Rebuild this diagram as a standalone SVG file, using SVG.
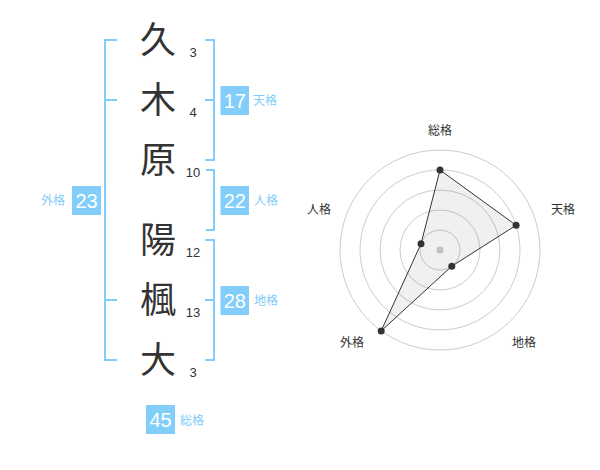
<svg xmlns="http://www.w3.org/2000/svg" width="600" height="470" viewBox="0 0 600 470">
<style>
.kanji{font-family:"Noto Sans CJK JP","Noto Sans CJK SC",sans-serif;font-size:36px;fill:#333;text-anchor:middle}
.num{font-family:"Liberation Sans",Arial,sans-serif;font-size:13px;fill:#333;text-anchor:middle}
.br{fill:none;stroke:#82cdf9;stroke-width:2}
.box{fill:#82cdf9}
.bnum{font-family:"Liberation Sans",Arial,sans-serif;font-size:20px;fill:#fff;text-anchor:middle}
.lab{font-family:"Noto Sans CJK JP","Noto Sans CJK SC",sans-serif;font-size:12px;fill:#82cdf9}
.rlab{font-family:"Noto Sans CJK JP","Noto Sans CJK SC",sans-serif;font-size:12px;fill:#333;text-anchor:middle}
.ring{fill:none;stroke:#cccccc;stroke-width:1}
.dot{fill:#333}
</style>
<rect width="600" height="470" fill="#fff"/>
<g id="name">
<g id="c1"><text class="kanji" x="158" y="53">久</text><text class="num" x="193" y="57">3</text></g>
<g id="c2"><text class="kanji" x="158" y="113">木</text><text class="num" x="193" y="117">4</text></g>
<g id="c3"><text class="kanji" x="158" y="173">原</text><text class="num" x="193" y="177">10</text></g>
<g id="c4"><text class="kanji" x="158" y="253">陽</text><text class="num" x="193" y="257">12</text></g>
<g id="c5"><text class="kanji" x="158" y="313">楓</text><text class="num" x="193" y="317">13</text></g>
<g id="c6"><text class="kanji" x="158" y="373">大</text><text class="num" x="193" y="377">3</text></g>
</g>
<g id="connectors">
<path class="br" d="M117,40 H105 V360 H117 M105,100 H117 M105,300 H117"/>
<path class="br" d="M205,40 H214 V160 H205 M205,100 H214"/>
<path class="br" d="M206,170 H214 V230 H206"/>
<path class="br" d="M205,240 H214 V360 H205 M205,300 H214"/>
</g>
<g id="tenkaku"><rect class="box" x="220.5" y="86" width="28.5" height="29"/><text class="bnum" x="234.75" y="107.5">17</text><text class="lab" x="253" y="105">天格</text></g>
<g id="jinkaku"><rect class="box" x="220.5" y="186" width="28.5" height="29"/><text class="bnum" x="234.75" y="207.5">22</text><text class="lab" x="254" y="205">人格</text></g>
<g id="chikaku"><rect class="box" x="220.5" y="286" width="28.5" height="29"/><text class="bnum" x="234.75" y="307.5">28</text><text class="lab" x="254" y="305">地格</text></g>
<g id="gaikaku"><rect class="box" x="72" y="186" width="29" height="29"/><text class="bnum" x="86.5" y="207.5">23</text><text class="lab" x="41" y="205">外格</text></g>
<g id="soukaku"><rect class="box" x="146" y="405" width="29" height="29"/><text class="bnum" x="160.5" y="426.5">45</text><text class="lab" x="180" y="425">総格</text></g>
<g id="radar">
<circle class="ring" cx="440" cy="250" r="20"/>
<circle class="ring" cx="440" cy="250" r="40"/>
<circle class="ring" cx="440" cy="250" r="60"/>
<circle class="ring" cx="440" cy="250" r="80"/>
<circle class="ring" cx="440" cy="250" r="100"/>
<circle cx="440" cy="250" r="3.5" fill="#cccccc"/>
<polygon points="440,170 516.1,225.3 451.8,266.2 381.2,330.9 421,243.8" fill="#000" fill-opacity="0.06" stroke="#333" stroke-width="1"/>
<circle class="dot" cx="440" cy="170" r="3.5"/>
<circle class="dot" cx="516.1" cy="225.3" r="3.5"/>
<circle class="dot" cx="451.8" cy="266.2" r="3.5"/>
<circle class="dot" cx="381.2" cy="330.9" r="3.5"/>
<circle class="dot" cx="421" cy="243.8" r="3.5"/>
<text class="rlab" x="440" y="134.5">総格</text>
<text class="rlab" x="563" y="213.5">天格</text>
<text class="rlab" x="524" y="346.5">地格</text>
<text class="rlab" x="352" y="346.5">外格</text>
<text class="rlab" x="319" y="213.5">人格</text>
</g>
</svg>
